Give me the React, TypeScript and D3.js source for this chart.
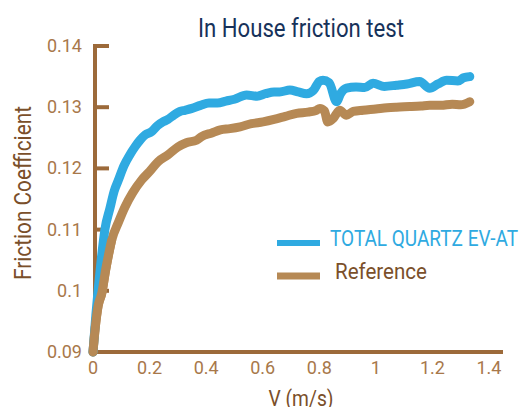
import React from "react";
import * as d3 from "d3";

// velocity (m/s) sample points
const quartzV = [0, 0.01, 0.019, 0.03, 0.042, 0.06, 0.075, 0.089, 0.11, 0.13, 0.148, 0.166, 0.185, 0.207, 0.228, 0.247, 0.265, 0.285, 0.307, 0.325, 0.35, 0.38, 0.41, 0.44, 0.47, 0.5, 0.543, 0.58, 0.61, 0.64, 0.66, 0.696, 0.725, 0.755, 0.78, 0.8, 0.813, 0.835, 0.861, 0.875, 0.896, 0.93, 0.96, 0.99, 1.03, 1.073, 1.11, 1.155, 1.19, 1.22, 1.25, 1.29, 1.31, 1.332];
const quartzF = [0.09, 0.096, 0.1006, 0.1055, 0.11, 0.1135, 0.1163, 0.118, 0.1205, 0.1222, 0.1235, 0.1246, 0.1255, 0.126, 0.127, 0.1276, 0.128, 0.1287, 0.1293, 0.1295, 0.1298, 0.1303, 0.1307, 0.1307, 0.131, 0.1313, 0.132, 0.1318, 0.1322, 0.1325, 0.1325, 0.1328, 0.1325, 0.1322, 0.1328, 0.1342, 0.1344, 0.134, 0.1309, 0.1322, 0.1331, 0.1333, 0.1332, 0.1339, 0.1334, 0.1336, 0.1338, 0.1342, 0.1331, 0.1338, 0.1344, 0.1343, 0.1348, 0.135];

const refV = [0, 0.008, 0.018, 0.031, 0.045, 0.066, 0.09, 0.113, 0.14, 0.172, 0.2, 0.23, 0.265, 0.3, 0.33, 0.366, 0.384, 0.42, 0.45, 0.484, 0.52, 0.56, 0.601, 0.64, 0.68, 0.72, 0.76, 0.79, 0.802, 0.818, 0.83, 0.85, 0.872, 0.896, 0.92, 0.955, 1.0, 1.04, 1.073, 1.12, 1.16, 1.19, 1.23, 1.27, 1.3, 1.332];
const refF = [0.09, 0.094, 0.0975, 0.0996, 0.1035, 0.1083, 0.1112, 0.1137, 0.116, 0.1181, 0.1195, 0.1211, 0.1222, 0.1235, 0.1242, 0.1246, 0.1252, 0.1258, 0.1263, 0.1265, 0.1268, 0.1273, 0.1276, 0.128, 0.1285, 0.129, 0.1292, 0.1295, 0.1298, 0.1294, 0.1276, 0.1282, 0.1295, 0.1287, 0.1293, 0.1295, 0.1297, 0.1299, 0.13, 0.1301, 0.1302, 0.1303, 0.1303, 0.1305, 0.1304, 0.1309];

const xTicks = [0, 0.2, 0.4, 0.6, 0.8, 1, 1.2, 1.4];
const yTicks = [0.09, 0.1, 0.11, 0.12, 0.13, 0.14];
const seriesNames = ["TOTAL QUARTZ EV-AT", "Reference"];

const BLUE = "#2faae1";
const TAN = "#b68955";
const AXIS = "#9c6a3a";
const LABEL = "#a8784a";
const font = "Roboto, 'Liberation Sans', sans-serif";

export default function App() {
  const x = d3.scaleLinear().domain([0, 1.4]).range([93, 489]);
  const y = d3.scaleLinear().domain([0.09, 0.14]).range([352, 46]);

  const line = d3
    .line<[number, number]>()
    .x(d => x(d[0]))
    .y(d => y(d[1]))
    .curve(d3.curveMonotoneX);

  const quartz = quartzV.map((v, i) => [v, quartzF[i]] as [number, number]);
  const ref = refV.map((v, i) => [v, refF[i]] as [number, number]);

  return (
    <svg
      width={528}
      height={407}
      style={{ position: "absolute", left: 0, top: 0, background: "#fff" }}
    >
      <text
        x={301}
        y={37}
        textAnchor="middle"
        fontFamily={font}
        fontSize={25}
        fill="#17325a"
        textLength={206}
        lengthAdjust="spacingAndGlyphs"
      >
        In House friction test
      </text>

      {/* y axis */}
      <line x1={95} x2={95} y1={y(0.14) - 2} y2={y(0.09) + 2} stroke={AXIS} strokeWidth={4} />
      {yTicks.map(t => (
        <g key={t}>
          <line x1={95} x2={109} y1={y(t)} y2={y(t)} stroke={AXIS} strokeWidth={4} />
          <text
            x={82}
            y={y(t) + 6}
            textAnchor="end"
            fontFamily={font}
            fontSize={18}
            fill={LABEL}
          >
            {t}
          </text>
        </g>
      ))}

      {/* x axis */}
      <line x1={93} x2={503} y1={352} y2={352} stroke={AXIS} strokeWidth={4} />
      {xTicks.map(t => (
        <text
          key={t}
          x={x(t)}
          y={374}
          textAnchor="middle"
          fontFamily={font}
          fontSize={18}
          fill={LABEL}
        >
          {t}
        </text>
      ))}

      <text
        x={301}
        y={406}
        textAnchor="middle"
        fontFamily={font}
        fontSize={22}
        fill="#7a4f2a"
        textLength={65}
        lengthAdjust="spacingAndGlyphs"
      >
        V (m/s)
      </text>
      <text
        transform="translate(31,193) rotate(-90)"
        textAnchor="middle"
        fontFamily={font}
        fontSize={23}
        fill="#7a4f2a"
        textLength={174}
        lengthAdjust="spacingAndGlyphs"
      >
        Friction Coefficient
      </text>

      {/* series */}
      <path d={line(ref) || ""} fill="none" stroke={TAN} strokeWidth={9} strokeLinecap="round" strokeLinejoin="round" />
      <path d={line(quartz) || ""} fill="none" stroke={BLUE} strokeWidth={9} strokeLinecap="round" strokeLinejoin="round" />
      <path d={line(ref.slice(0, 6)) || ""} fill="none" stroke={TAN} strokeWidth={9} strokeLinecap="round" strokeLinejoin="round" />

      {/* legend */}
      <line x1={277} x2={320} y1={243} y2={243} stroke={BLUE} strokeWidth={6} />
      <text
        x={330}
        y={246}
        fontFamily={font}
        fontSize={22}
        fill={BLUE}
        textLength={188}
        lengthAdjust="spacingAndGlyphs"
      >
        {seriesNames[0]}
      </text>
      <line x1={277} x2={320} y1={276} y2={276} stroke={TAN} strokeWidth={7} />
      <text
        x={335}
        y={279}
        fontFamily={font}
        fontSize={22}
        fill="#7a4f2a"
        textLength={92}
        lengthAdjust="spacingAndGlyphs"
      >
        {seriesNames[1]}
      </text>
    </svg>
  );
}
